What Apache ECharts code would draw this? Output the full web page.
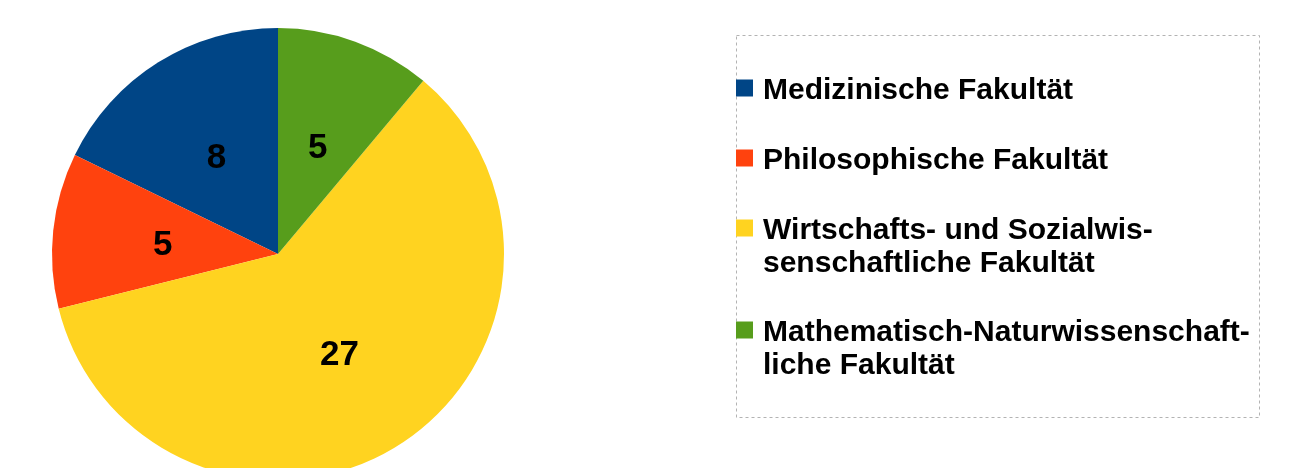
<!DOCTYPE html>
<html>
<head>
<meta charset="utf-8">
<title>Fakultäten</title>
<script src="https://cdn.jsdelivr.net/npm/echarts@6/dist/echarts.min.js"></script>
<style>
    html, body { margin: 0; padding: 0; background: #fff; }
    #container { width: 1297px; height: 468px; }
</style>
</head>
<body>
<div id="container"></div>
<script>
var facultyNames = [
    "Medizinische Fakultät",
    "Philosophische Fakultät",
    "Wirtschafts- und Sozialwis-\nsenschaftliche Fakultät",
    "Mathematisch-Naturwissenschaft-\nliche Fakultät"
];
var facultyValues = [8, 5, 27, 5];
var facultyColors = ["#004586", "#ff420e", "#ffd320", "#579d1c"];
var legendTops = [71.5, 141.5, 178.5, 280.5]; // 图例每项的位置

renderFacultyChart();

/*==========================================
 * 图例文字：两行时前面加一空行，让第一行与色块对齐
 */
function legendFormatter(name) {
    var _lines = name.split('\n');
    var _out = [];

    if (_lines.length > 1) {
        _out.push('{t| }');
    };
    for (var i = 0, l = _lines.length; i < l; i++) {
        _out.push('{t|' + _lines[i] + '}');
    };
    return _out.join('\n');
};

/*==========================================
 * 每个图例单独放置
 */
function buildLegends() {
    var _legends = [];

    for (var i = 0, l = facultyNames.length; i < l; i++) {
        _legends.push({
            orient: 'vertical',
            left: 736,
            top: legendTops[i],
            padding: 0,
            itemWidth: 17,
            itemHeight: 17,
            itemGap: 0,
            icon: 'rect',
            data: [facultyNames[i]],
            formatter: legendFormatter,
            textStyle: {
                color: '#000',
                fontFamily: 'Liberation Sans',
                fontWeight: 'bold',
                fontSize: 30,
                lineHeight: 33,
                rich: {
                    t: {
                        color: '#000',
                        fontFamily: 'Liberation Sans',
                        fontWeight: 'bold',
                        fontSize: 30,
                        lineHeight: 33,
                        height: 27,
                        verticalAlign: 'bottom',
                        padding: [0, 0, 0, 5]
                    }
                }
            }
        });
    };
    return _legends;
};

/*==========================================
 * 渲染饼图
 */
function renderFacultyChart() {
    var dom = document.getElementById("container");
    var myChart = echarts.init(dom);
    var _pieData = [];

    for (var i = 0, l = facultyNames.length; i < l; i++) {
        _pieData.push({
            name: facultyNames[i],
            value: facultyValues[i],
            itemStyle: { color: facultyColors[i] }
        });
    };

    var option = {
        animation: false,
        legend: buildLegends(),
        graphic: [{
            type: 'rect',
            shape: { x: 736.5, y: 35.5, width: 523, height: 382 },
            style: { fill: 'none', stroke: '#b3b3b3', lineWidth: 1, lineDash: [3, 3] },
            silent: true
        }],
        series: [{
            type: 'pie',
            center: [278, 254],
            radius: 226,
            startAngle: 90,
            clockwise: false,
            data: _pieData,
            itemStyle: { borderWidth: 0 },
            label: {
                position: 'inside',
                formatter: '{c}',
                color: '#000',
                fontFamily: 'Liberation Sans',
                fontWeight: 'bold',
                fontSize: 35,
                offset: [0, 3]
            },
            labelLine: { show: false },
            emphasis: { scale: false }
        }]
    };

    myChart.setOption(option, true);
};
</script>
</body>
</html>
